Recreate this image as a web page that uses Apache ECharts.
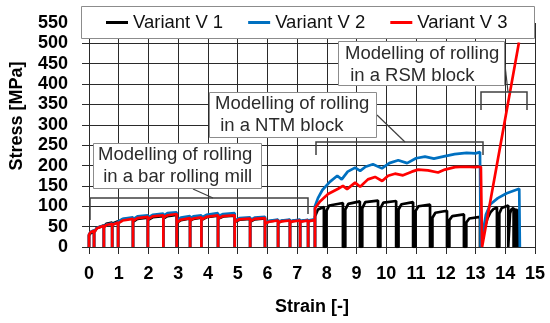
<!DOCTYPE html>
<html><head><meta charset="utf-8">
<script src="https://cdn.jsdelivr.net/npm/echarts@6/dist/echarts.min.js"></script>
<style>html,body{margin:0;padding:0;background:#fff}#c{width:550px;height:323px}</style>
</head><body><div id="c"></div>
<script>
var seriesNames = ['Variant V 1', 'Variant V 2', 'Variant V 3'];
var xTicks = {min: 0, max: 15, step: 1};
var yTicks = {min: 0, max: 550, step: 50};

// Variant V 1 (strain, stress MPa)
var v1 = [[0,0],
 [0,28],[0.05,34],[0.17,38],[0.17,0],
 [0.17,36],[0.27,47],[0.5,53],[0.5,0],
 [0.5,50],[0.58,57],[0.78,60],[0.78,0],
 [0.78,57],[0.84,61],[0.98,63],[0.98,0],
 [0.98,61],[1.13,68],[1.48,71],[1.48,0],
 [1.48,62],[1.63,69],[1.98,72],[1.98,0],
 [1.98,66],[2.14,73],[2.5,76],[2.5,0],
 [2.5,70],[2.64,76],[2.95,79],[2.95,0],
 [2.95,59],[3.09,66],[3.4,70],[3.4,0],
 [3.4,64],[3.51,69],[3.78,72],[3.78,0],
 [3.78,66],[3.95,73],[4.34,77],[4.34,0],
 [4.34,69],[4.51,75],[4.9,77],[4.9,0],
 [4.9,61],[5.06,67],[5.42,69],[5.42,0],
 [5.42,62],[5.57,68],[5.92,70],[5.92,0],
 [5.92,58],[6.05,63],[6.36,66],[6.36,0],
 [6.36,60],[6.48,64],[6.76,66],[6.76,0],
 [6.76,61],[6.86,64],[7.1,66],[7.1,0],
 [7.1,62],[7.18,64],[7.37,66],[7.37,0],
 [7.37,63],[7.44,65],[7.6,67],[7.6,0],
 [7.6,75],[7.7,92],[7.9,98],[7.9,0],
 [7.98,0],[7.98,88],[8.08,102],[8.54,108],[8.54,0],
 [8.62,0],[8.62,92],[8.72,106],[9.11,112],[9.11,0],
 [9.19,0],[9.19,95],[9.29,110],[9.72,114],[9.72,0],
 [9.8,0],[9.8,95],[9.9,109],[10.33,113],[10.33,0],
 [10.41,0],[10.41,92],[10.51,105],[10.9,110],[10.9,0],
 [10.98,0],[10.98,88],[11.08,100],[11.47,104],[11.47,0],
 [11.55,0],[11.55,72],[11.65,84],[12.04,89],[12.04,0],
 [12.12,0],[12.12,66],[12.22,76],[12.61,80],[12.61,0],
 [12.69,0],[12.69,60],[12.79,70],[13.15,74],[13.15,0],
 [13.2,0],[13.3,45],[13.4,70],[13.5,85],[13.6,93],[13.72,97],[13.72,0],
 [13.8,0],[13.8,82],[13.88,96],[14.1,102],[14.1,0],
 [14.16,0],[14.16,82],[14.2,92],[14.28,96],[14.28,0],
 [14.32,0],[14.32,85],[14.37,94],[14.37,0],
 [14.4,0],[14.4,85],[14.45,92],[14.45,0]];

// Variant V 2
var v2 = [[0,0],
 [0,31],[0.05,37],[0.17,41],[0.17,0],
 [0.17,37],[0.27,47],[0.5,53],[0.5,0],
 [0.5,49],[0.58,55],[0.78,58],[0.78,0],
 [0.78,55],[0.84,59],[0.98,61],[0.98,0],
 [0.98,62],[1.13,69],[1.48,73],[1.48,0],
 [1.48,68],[1.63,75],[1.98,78],[1.98,0],
 [1.98,72],[2.14,79],[2.5,82],[2.5,0],
 [2.5,76],[2.64,83],[2.95,85],[2.95,0],
 [2.95,65],[3.09,72],[3.4,76],[3.4,0],
 [3.4,70],[3.51,75],[3.78,78],[3.78,0],
 [3.78,72],[3.95,79],[4.34,83],[4.34,0],
 [4.34,75],[4.51,81],[4.9,83],[4.9,0],
 [4.9,65],[5.06,71],[5.42,73],[5.42,0],
 [5.42,66],[5.57,72],[5.92,74],[5.92,0],
 [5.92,59],[6.05,64],[6.36,67],[6.36,0],
 [6.36,61],[6.48,65],[6.76,67],[6.76,0],
 [6.76,62],[6.86,65],[7.1,67],[7.1,0],
 [7.1,63],[7.18,65],[7.37,67],[7.37,0],
 [7.37,64],[7.44,66],[7.6,68],[7.6,0],
 [7.6,100],[7.7,120],[7.85,140],[8.1,160],[8.35,175],[8.5,166],[8.7,185],[8.95,195],
 [9.12,187],[9.3,197],[9.55,203],[9.85,193],[10.1,206],[10.4,213],[10.7,206],[11.0,218],
 [11.3,222],[11.6,217],[11.9,222],[12.3,228],[12.7,231],[13.0,230],[13.15,233],[13.17,0],
 [13.28,50],[13.35,80],[13.5,105],[13.75,120],[14.05,132],[14.47,143],[14.49,0]];

// Variant V 3
var v3 = [[0,0],
 [0,30],[0.05,36],[0.17,40],[0.17,0],
 [0.17,36],[0.27,46],[0.5,52],[0.5,0],
 [0.5,48],[0.58,54],[0.78,57],[0.78,0],
 [0.78,54],[0.84,58],[0.98,60],[0.98,0],
 [0.98,58],[1.13,65],[1.48,69],[1.48,0],
 [1.48,64],[1.63,71],[1.98,74],[1.98,0],
 [1.98,68],[2.14,75],[2.5,78],[2.5,0],
 [2.5,72],[2.64,78],[2.95,81],[2.95,0],
 [2.95,60],[3.09,67],[3.4,71],[3.4,0],
 [3.4,65],[3.51,70],[3.78,73],[3.78,0],
 [3.78,67],[3.95,74],[4.34,78],[4.34,0],
 [4.34,70],[4.51,76],[4.9,78],[4.9,0],
 [4.9,62],[5.06,68],[5.42,70],[5.42,0],
 [5.42,63],[5.57,69],[5.92,71],[5.92,0],
 [5.92,57],[6.05,62],[6.36,65],[6.36,0],
 [6.36,59],[6.48,63],[6.76,65],[6.76,0],
 [6.76,60],[6.86,63],[7.1,65],[7.1,0],
 [7.1,61],[7.18,63],[7.37,65],[7.37,0],
 [7.37,62],[7.44,64],[7.6,66],[7.6,0],
 [7.6,95],[7.77,112],[8.04,130],[8.38,143],[8.54,150],[8.68,142],[8.95,158],[9.12,148],
 [9.38,166],[9.62,172],[9.86,162],[10.06,175],[10.29,180],[10.56,176],[10.86,185],[11.07,190],
 [11.4,188],[11.74,183],[11.97,190],[12.31,196],[12.65,197],[12.98,196],[13.18,197],[13.22,0],
 [14.46,502]];

var annotationTexts = ['Modelling of rolling\n in a bar rolling mill', 'Modelling of rolling\n in a NTM block', 'Modelling of rolling\n in a RSM block'];
var axisNames = {x: 'Strain [-]', y: 'Stress [MPa]'};

var colors = ['#000000', '#0070C0', '#FF0000'];
var gridColor = '#2a2a2a';
var labelFont = {fontFamily: '"Liberation Sans", Arial, sans-serif', fontWeight: 'bold', fontSize: 18, color: '#000'};
var boxStroke = '#8c8c8c';
var brStroke = '#404040';

function mkSeries(name, data, color) {
  return {name: name, type: 'line', data: data, showSymbol: false, symbol: 'none',
    lineStyle: {color: color, width: 2.7}, itemStyle: {color: color}, animation: false};
}

function box(x, y, w, h, text, tx, ty) {
  return [
    {type: 'rect', shape: {x: x, y: y, width: w, height: h}, style: {fill: '#fff', stroke: boxStroke, lineWidth: 1}, z: 6},
    {type: 'text', x: tx, y: ty, style: {text: text, font: '18.5px "Liberation Sans", Arial, sans-serif', fill: '#2b2b2b', lineHeight: 22, align: 'left', verticalAlign: 'top'}, z: 7}
  ];
}

var graphics = [
  {type: 'rect', shape: {x: 81.5, y: 6.5, width: 453, height: 32}, style: {fill: '#fff', stroke: boxStroke, lineWidth: 1}, z: 3},
  {type: 'text', x: 17, y: 116, rotation: Math.PI / 2, style: {text: axisNames.y, font: 'bold 18px "Liberation Sans", Arial, sans-serif', fill: '#000', align: 'center', verticalAlign: 'middle'}, z: 5},
  {type: 'polyline', shape: {points: [[90, 220], [90, 198], [308, 198], [308, 214]]}, style: {stroke: brStroke, lineWidth: 1.5, fill: null}, z: 5},
  {type: 'line', shape: {x1: 193, y1: 189, x2: 213, y2: 198}, style: {stroke: brStroke, lineWidth: 1.2}, z: 5},
  {type: 'polyline', shape: {points: [[316, 155], [316, 142], [483, 142], [483, 155]]}, style: {stroke: brStroke, lineWidth: 1.5, fill: null}, z: 5},
  {type: 'line', shape: {x1: 377, y1: 115, x2: 405, y2: 142}, style: {stroke: brStroke, lineWidth: 1.2}, z: 5},
  {type: 'polyline', shape: {points: [[481, 110], [481, 92], [527, 92], [527, 110]]}, style: {stroke: brStroke, lineWidth: 1.5, fill: null}, z: 5},
  {type: 'line', shape: {x1: 505, y1: 65, x2: 508, y2: 92}, style: {stroke: brStroke, lineWidth: 1.2}, z: 5}
].concat(box(93.5, 143.5, 168, 45, annotationTexts[0], 98, 144))
 .concat(box(209.5, 92.5, 167, 45, annotationTexts[1], 215, 93))
 .concat(box(338.5, 41.5, 166, 44, annotationTexts[2], 345, 43));

var chart = echarts.init(document.getElementById('c'), null, {renderer: 'canvas'});
chart.setOption({
  animation: false,
  backgroundColor: '#fff',
  grid: {left: 89, right: 15, top: 23, bottom: 76, containLabel: false},
  legend: {
    data: seriesNames, left: 106, top: 13, itemGap: 25, itemWidth: 22, itemHeight: 3, padding: 0,
    icon: 'rect',
    textStyle: {fontFamily: '"Liberation Sans", Arial, sans-serif', fontSize: 18.5, color: '#111'}, z: 4
  },
  xAxis: {
    type: 'value', min: xTicks.min, max: xTicks.max, interval: xTicks.step,
    name: axisNames.x, nameLocation: 'middle', nameGap: 51,
    nameTextStyle: labelFont,
    axisLine: {show: true, lineStyle: {color: gridColor, width: 1}},
    axisTick: {show: true, inside: false, length: 7, lineStyle: {color: gridColor}},
    axisLabel: Object.assign({margin: 18}, labelFont),
    splitLine: {show: true, lineStyle: {color: gridColor, width: 1}}
  },
  yAxis: {
    type: 'value', min: yTicks.min, max: yTicks.max, interval: yTicks.step,
    axisLine: {show: true, lineStyle: {color: gridColor, width: 1}},
    axisTick: {show: true, inside: false, length: 7, lineStyle: {color: gridColor}},
    axisLabel: Object.assign({margin: 21}, labelFont),
    splitLine: {show: true, lineStyle: {color: gridColor, width: 1}}
  },
  series: [mkSeries(seriesNames[0], v1, colors[0]), mkSeries(seriesNames[1], v2, colors[1]), mkSeries(seriesNames[2], v3, colors[2])],
  graphic: graphics
});
</script></body></html>
